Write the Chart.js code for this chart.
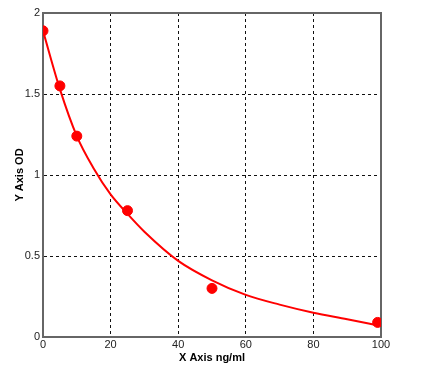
<!DOCTYPE html>
<html>
<head>
<meta charset="utf-8">
<script src="https://cdn.jsdelivr.net/npm/chart.js@4/dist/chart.umd.min.js"></script>
<style>
html,body{margin:0;padding:0;background:#fff;}
#wrap{width:425px;height:391px;}
</style>
</head>
<body>
<div id="wrap"><canvas id="c" width="425" height="391"></canvas></div>
<script>
// Measured standards
const stdConc = [0, 5, 10, 25, 50, 99];
const stdOD = [1.89, 1.55, 1.24, 0.78, 0.30, 0.09];
// Fitted curve
const curveConc = [0, 5, 10, 15, 20, 25, 30, 40, 50, 60, 70, 80, 90, 99.5];
const curveOD = [1.89, 1.53, 1.24, 1.04, 0.88, 0.76, 0.65, 0.47, 0.35, 0.26, 0.20, 0.15, 0.11, 0.07];
const xTicks = [0, 20, 40, 60, 80, 100];
const yTicks = [0, 0.5, 1, 1.5, 2];

const toPts = (xs, ys) => xs.map((x, i) => ({x: x, y: ys[i]}));

const frame = {
  id: 'frame',
  beforeDatasetsDraw(chart) {
    const a = chart.chartArea, ctx = chart.ctx;
    ctx.save();
    ctx.setLineDash([]);
    ctx.strokeStyle = '#666';
    ctx.lineWidth = 2;
    ctx.strokeRect(a.left, a.top, a.right - a.left, a.bottom - a.top);
    ctx.restore();
  }
};

const tickFont = {family: 'Liberation Sans, Arial, sans-serif', size: 11};
const titleFont = {family: 'Liberation Sans, Arial, sans-serif', size: 11, weight: 'bold'};

new Chart(document.getElementById('c'), {
  type: 'scatter',
  data: {
    datasets: [
      {
        data: toPts(curveConc, curveOD),
        showLine: true,
        borderColor: '#ff0000',
        borderWidth: 2,
        pointRadius: 0,
        cubicInterpolationMode: 'monotone',
        fill: false
      },
      {
        data: toPts(stdConc, stdOD),
        showLine: false,
        pointRadius: 5,
        pointBackgroundColor: '#ff0000',
        pointBorderColor: '#ff0000',
        pointBorderWidth: 1
      }
    ]
  },
  plugins: [frame],
  options: {
    responsive: false,
    animation: false,
    devicePixelRatio: 1,
    layout: {padding: {left: 0, top: 13, right: 44, bottom: 0}},
    plugins: {legend: {display: false}, tooltip: {enabled: false}},
    scales: {
      x: {
        type: 'linear', min: 0, max: 100,
        afterBuildTicks: s => { s.ticks = xTicks.map(v => ({value: v})); },
        afterFit: s => { s.height = 54; },
        ticks: {color: '#222', font: tickFont, padding: 1, maxRotation: 0, callback: v => String(v)},
        grid: {color: '#111', lineWidth: 1, drawTicks: false, tickLength: 0},
        border: {display: true, color: '#666', width: 2, dash: [3, 3]},
        title: {display: true, text: 'X Axis ng/ml', color: '#000', font: titleFont, padding: {top: 0, bottom: 26}}
      },
      y: {
        type: 'linear', min: 0, max: 2,
        afterBuildTicks: s => { s.ticks = yTicks.map(v => ({value: v})); },
        afterFit: s => { s.width = 43; },
        ticks: {color: '#222', font: tickFont, padding: 3, callback: v => String(v)},
        grid: {color: '#111', lineWidth: 1, drawTicks: false, tickLength: 0},
        border: {display: true, color: '#666', width: 2, dash: [3, 3]},
        title: {display: true, text: 'Y Axis OD', color: '#000', font: titleFont, padding: {top: 13, bottom: 0}}
      }
    }
  }
});
</script>
</body>
</html>
